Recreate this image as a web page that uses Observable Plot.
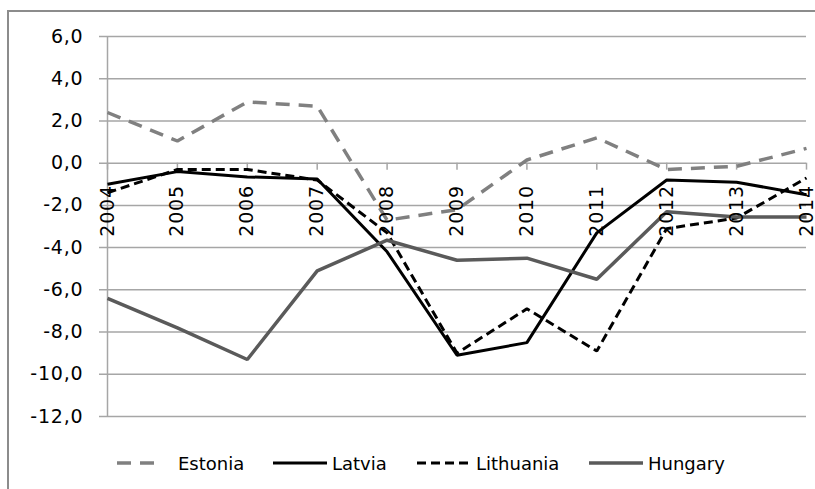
<!DOCTYPE html>
<html>
<head>
<meta charset="utf-8">
<script src="https://cdn.jsdelivr.net/npm/d3@7"></script>
<script src="https://cdn.jsdelivr.net/npm/@observablehq/plot@0.6"></script>
<style>
  html, body { margin: 0; padding: 0; background: #fff; }
  #wrap { position: relative; width: 815px; height: 489px; overflow: hidden; background: #fff; }
  #frame { position: absolute; left: 7px; top: 10px; width: 830px; height: 500px; border: 2px solid #8c8c8c; box-sizing: border-box; }
  #chart { position: absolute; left: 0; top: 0; }
  #chart svg text { font-family: "DejaVu Sans", sans-serif !important; font-size: 19px !important; letter-spacing: 0.8px; }
  #legend { position: absolute; left: 0; top: 450px; width: 815px; height: 26px; font-family: "DejaVu Sans", sans-serif; font-size: 18px; color: #000; }
  .item { position: absolute; top: 0; display: flex; align-items: center; height: 26px; }
  .item svg { display: block; }
</style>
</head>
<body>
<div id="wrap">
  <div id="frame"></div>
  <div id="chart"></div>
  <div id="legend"></div>
</div>
<script>
const years = [2004, 2005, 2006, 2007, 2008, 2009, 2010, 2011, 2012, 2013, 2014];
const estonia   = [2.4, 1.05, 2.9, 2.7, -2.7, -2.2, 0.15, 1.2, -0.3, -0.15, 0.7];
const latvia    = [-1.0, -0.4, -0.65, -0.75, -4.2, -9.1, -8.5, -3.3, -0.8, -0.9, -1.5];
const lithuania = [-1.4, -0.3, -0.3, -0.8, -3.3, -9.0, -6.9, -8.9, -3.1, -2.6, -0.7];
const hungary   = [-6.4, -7.8, -9.3, -5.1, -3.65, -4.6, -4.5, -5.5, -2.3, -2.55, -2.55];
const yTicks = [-12, -10, -8, -6, -4, -2, 0, 2, 4, 6];
const seriesNames = ["Estonia", "Latvia", "Lithuania", "Hungary"];

const styles = {
  Estonia:   {stroke: "#808080", dash: "14,9", width: 3.5},
  Latvia:    {stroke: "#000000", dash: null, width: 3},
  Lithuania: {stroke: "#000000", dash: "9,5", width: 3},
  Hungary:   {stroke: "#5a5a5a", dash: null, width: 3.5}
};
const values = {Estonia: estonia, Latvia: latvia, Lithuania: lithuania, Hungary: hungary};

const fmt = d => d.toFixed(1).replace(".", ",");

const lineMarks = seriesNames.map(name => {
  const s = styles[name];
  const rows = years.map((y, i) => ({year: y, value: values[name][i]}));
  return Plot.line(rows, {
    x: "year", y: "value",
    stroke: s.stroke, strokeWidth: s.width,
    strokeDasharray: s.dash || undefined,
    strokeLinejoin: "miter", strokeLinecap: "butt"
  });
});

const chart = Plot.plot({
  width: 815,
  height: 440,
  marginLeft: 107,
  marginRight: 9,
  marginTop: 36,
  marginBottom: 24,
  style: {fontFamily: "DejaVu Sans, sans-serif", fontSize: "19px", color: "#000", background: "transparent"},
  x: {type: "linear", domain: [2004, 2014], axis: null},
  y: {domain: [-12, 6], axis: null},
  marks: [
    Plot.ruleY(yTicks, {y: d => d, stroke: "#a6a6a6", strokeWidth: 1.5, insetLeft: -8}),
    Plot.ruleX([years[0]], {x: d => d, y1: -12, y2: 6, stroke: "#a6a6a6", strokeWidth: 1.5}),
    Plot.ruleX(years, {x: d => d, y1: 0, y2: -0.33, stroke: "#a6a6a6", strokeWidth: 1.5}),
    Plot.text(yTicks, {x: years[0], y: d => d, text: fmt, textAnchor: "end", dx: -24, fill: "#000", fontSize: 19}),
    ...lineMarks,
    Plot.text(years, {x: d => d, y: 0, text: d => String(d), rotate: -90, textAnchor: "end", dy: 22, fill: "#000", fontSize: 19})
  ]
});
document.getElementById("chart").appendChild(chart);

// legend
const legendPos = {Estonia: 102, Latvia: 272, Lithuania: 416, Hungary: 588};
const legend = d3.select("#legend");
seriesNames.forEach(name => {
  const s = styles[name];
  const item = legend.append("div").attr("class", "item").style("left", legendPos[name] + "px");
  const svg = item.append("svg").attr("width", 56).attr("height", 26);
  svg.append("line")
    .attr("x1", name === "Estonia" ? 15 : 1).attr("x2", 55)
    .attr("y1", 13).attr("y2", 13)
    .attr("stroke", s.stroke).attr("stroke-width", s.width)
    .attr("stroke-dasharray", s.dash || null);
  item.append("span").text(name).style("margin-left", name === "Estonia" ? "20px" : "4px");
});
</script>
</body>
</html>
